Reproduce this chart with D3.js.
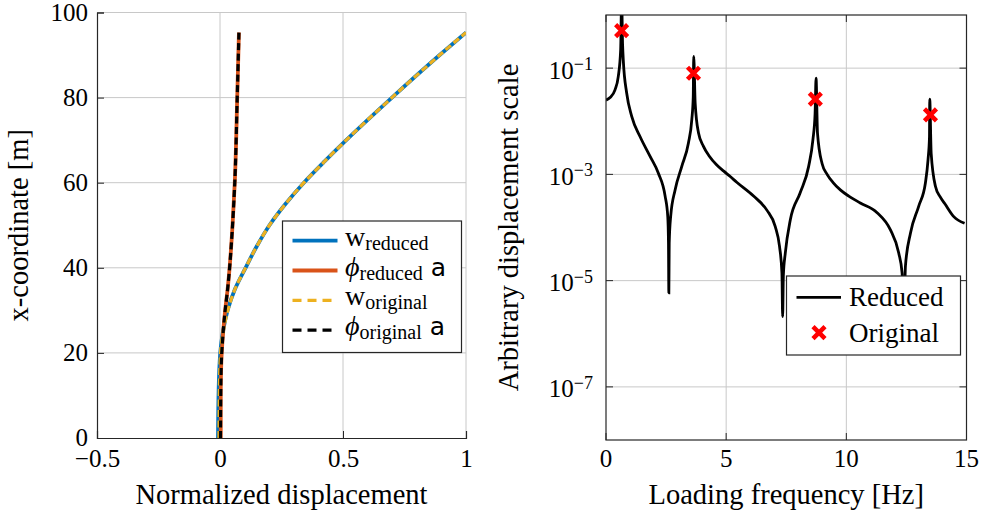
<!DOCTYPE html>
<html>
<head>
<meta charset="utf-8">
<script src="https://cdn.jsdelivr.net/npm/d3@7"></script>
<style>
  body { margin: 0; background: #fff; }
  svg { display: block; }
  text { font-family: "Liberation Serif", "DejaVu Serif", serif; fill: #000; }
</style>
</head>
<body>
<svg id="chart" width="983" height="515"></svg>
<script>
// ---- Mode shape data (left panel) ----
const xCoordW = [0, 10, 20, 25, 30, 35, 40, 45, 50, 55, 60, 65, 70, 80, 90, 95.3];
const wReduced = [-0.008, -0.006, 0.001, 0.012, 0.031, 0.061, 0.104, 0.149, 0.201, 0.266, 0.341, 0.425, 0.513, 0.699, 0.893, 1.0];
const wOriginal = [-0.004, -0.003, 0.002, 0.013, 0.032, 0.061, 0.104, 0.149, 0.201, 0.266, 0.341, 0.425, 0.513, 0.699, 0.893, 1.0];
const xCoordPhi = [0, 10, 15, 20, 25, 30, 35, 40, 50, 60, 80, 95.3];
const phiReduced = [0.003, 0.003, 0.004, 0.007, 0.013, 0.021, 0.031, 0.039, 0.051, 0.060, 0.070, 0.077];
const phiOriginal = [0.002, 0.003, 0.004, 0.007, 0.013, 0.021, 0.031, 0.039, 0.051, 0.060, 0.070, 0.077];
const leftXTicks = [-0.5, 0, 0.5, 1];
const leftYTicks = [0, 20, 40, 60, 80, 100];

// ---- Frequency response data (right panel) ----
const freqReduced = [0, 0.17, 0.375, 0.51, 0.61, 0.65, 0.69, 0.72, 0.86, 1.07, 1.42, 1.83, 2.18, 2.46, 2.57, 2.60, 2.615, 2.63,
  2.69, 2.875, 3.15, 3.43, 3.57, 3.63, 3.65, 3.71, 3.85, 4.05, 4.3, 4.61, 4.9, 5.17, 5.44, 6.14, 6.7, 7.04, 7.22, 7.32, 7.35, 7.38,
  7.46, 7.67, 8.08, 8.43, 8.61, 8.70, 8.74, 8.80, 8.99, 9.2, 9.45, 9.75, 10.1, 10.58, 11.28, 11.83, 12.18, 12.32, 12.39,
  12.46, 12.67, 13.01, 13.29, 13.40, 13.46, 13.47, 13.53, 13.71, 13.9, 14.1, 14.47, 14.92];
const ampReduced = [2.5e-2, 2.8e-2, 3.9e-2, 6.9e-2, 0.22, 2.0, 0.28, 0.14, 3.4e-2, 1.23e-2, 5.1e-3, 2.2e-3, 1.05e-3, 3.9e-4, 1.6e-4, 5.1e-5, 5.9e-6, 5.0e-5,
  1.6e-4, 5.1e-4, 1.4e-3, 3.9e-3, 1.07e-2, 2.9e-2, 0.166, 2.2e-2, 6.0e-3, 3.4e-3, 2.2e-3, 1.5e-3, 1.15e-3, 9.1e-4, 7.1e-4, 3.9e-4, 2.1e-4, 1.05e-4, 4.4e-5, 1.4e-5, 2.1e-6, 1.26e-5,
  3.3e-5, 1.4e-4, 4.5e-4, 1.4e-3, 4.5e-3, 1.4e-2, 6.5e-2, 6.0e-3, 1.6e-3, 1.0e-3, 7.0e-4, 5.1e-4, 3.9e-4, 2.9e-4, 1.9e-4, 9.1e-5, 3.3e-5, 1.4e-5, 1.6e-6,
  1.9e-5, 7.9e-5, 2.5e-4, 6.9e-4, 1.9e-3, 5.1e-3, 2.6e-2, 2.5e-3, 5.9e-4, 3.8e-4, 2.8e-4, 1.6e-4, 1.2e-4];
const freqOriginal = [0.65, 3.64, 8.71, 13.5];
const ampOriginal = [0.507, 0.080, 0.026, 0.0132];
const rightXTicks = [0, 5, 10, 15];
const rightYExponents = [-1, -3, -5, -7];

const colors = { blue: "#0072BD", orange: "#D95319", yellow: "#EDB120", black: "#000000", red: "#FF0000" };
const gridColor = "#c8c8c8";
const axisColor = "#262626";

const svg = d3.select("#chart");
const fmtMinus = s => String(s).replace("-", "\u2212");

// ================= Left panel =================
const L = { left: 97, right: 466, top: 12.5, bottom: 438 };
const xL = d3.scaleLinear().domain([-0.5, 1]).range([L.left, L.right]);
const yL = d3.scaleLinear().domain([0, 100]).range([L.bottom, L.top]);
const gL = svg.append("g");

gL.append("defs").append("clipPath").attr("id", "clipL")
  .append("rect").attr("x", L.left).attr("y", L.top).attr("width", L.right - L.left).attr("height", L.bottom - L.top);

// grid
gL.append("g").selectAll("line").data(leftXTicks.filter(d => d > -0.5)).join("line")
  .attr("x1", d => xL(d)).attr("x2", d => xL(d)).attr("y1", L.top).attr("y2", L.bottom)
  .attr("stroke", gridColor).attr("stroke-width", 1);
gL.append("g").selectAll("line").data(leftYTicks.filter(d => d > 0)).join("line")
  .attr("x1", L.left).attr("x2", L.right).attr("y1", d => yL(d)).attr("y2", d => yL(d))
  .attr("stroke", gridColor).attr("stroke-width", 1);

// axes (left and bottom only)
const axLeftL = d3.axisLeft(yL).tickValues(leftYTicks).tickSize(-7).tickPadding(9).tickFormat(d => d);
const axBottomL = d3.axisBottom(xL).tickValues(leftXTicks).tickSize(-7).tickPadding(11).tickFormat(d => fmtMinus(d));
const gyL = gL.append("g").attr("transform", `translate(${L.left},0)`).call(axLeftL);
const gxL = gL.append("g").attr("transform", `translate(0,${L.bottom})`).call(axBottomL);
[gyL, gxL].forEach(g => {
  g.select(".domain").attr("stroke", axisColor).attr("stroke-width", 1.2);
  g.selectAll(".tick line").attr("stroke", axisColor).attr("stroke-width", 1);
  g.selectAll(".tick text").attr("font-family", "Liberation Serif").attr("font-size", 25).attr("fill", "#000");
});
gxL.selectAll(".tick text").attr("dy", "0.71em");
gyL.selectAll(".tick text").attr("dy", "0.3em");

// lines
const lineL = (xs, ys) => d3.line().x((d, i) => xL(xs[i])).y((d, i) => yL(ys[i])).curve(d3.curveMonotoneY);
const plotL = gL.append("g").attr("clip-path", "url(#clipL)");
plotL.append("path").datum(wReduced).attr("d", lineL(wReduced, xCoordW))
  .attr("fill", "none").attr("stroke", colors.blue).attr("stroke-width", 3.8);
plotL.append("path").datum(phiReduced).attr("d", lineL(phiReduced, xCoordPhi))
  .attr("fill", "none").attr("stroke", colors.orange).attr("stroke-width", 3.8);
plotL.append("path").datum(wOriginal).attr("d", lineL(wOriginal, xCoordW))
  .attr("fill", "none").attr("stroke", colors.yellow).attr("stroke-width", 3.2).attr("stroke-dasharray", "7 3.5");
plotL.append("path").datum(phiOriginal).attr("d", lineL(phiOriginal, xCoordPhi))
  .attr("fill", "none").attr("stroke", colors.black).attr("stroke-width", 3.2).attr("stroke-dasharray", "7 3.5");

// axis labels
gL.append("text").attr("x", (L.left + L.right) / 2).attr("y", 504).attr("text-anchor", "middle")
  .attr("font-size", 28.5).text("Normalized displacement");
gL.append("text").attr("transform", `translate(28,${(L.top + L.bottom) / 2}) rotate(-90)`).attr("text-anchor", "middle")
  .attr("font-size", 28.5).text("x-coordinate [m]");

// legend
const legL = gL.append("g");
legL.append("rect").attr("x", 282.5).attr("y", 221).attr("width", 179).attr("height", 131.5)
  .attr("fill", "#fff").attr("stroke", axisColor).attr("stroke-width", 1.2);
const legItemsL = [
  { sym: "w", sub: "reduced", tail: "", color: colors.blue, dash: null },
  { sym: "\u03D5", sub: "reduced", tail: " a", color: colors.orange, dash: null },
  { sym: "w", sub: "original", tail: "", color: colors.yellow, dash: "9 6" },
  { sym: "\u03D5", sub: "original", tail: " a", color: colors.black, dash: "9 6" }
];
legItemsL.forEach((it, i) => {
  const y = 240.7 + i * 29.8;
  legL.append("line").attr("x1", 292.5).attr("x2", 337.5).attr("y1", y).attr("y2", y)
    .attr("stroke", it.color).attr("stroke-width", it.dash ? 3.2 : 3.8).attr("stroke-dasharray", it.dash);
  const t = legL.append("text").attr("x", 345).attr("y", y + 5).attr("font-size", 28);
  t.append("tspan").attr("font-style", it.sym === "w" ? "normal" : "italic").text(it.sym);
  t.append("tspan").attr("font-size", 20).attr("dy", 4).text(it.sub);
  if (it.tail) t.append("tspan").attr("dy", -4).attr("font-family", "DejaVu Sans").attr("font-size", 25).text(it.tail);
});

// ================= Right panel =================
const R = { left: 606, right: 966.5, top: 15, bottom: 440 };
const xR = d3.scaleLinear().domain([0, 15]).range([R.left, R.right]);
const yR = d3.scaleLog().domain([1e-8, 1]).range([R.bottom, R.top]);
const gR = svg.append("g");

gR.append("defs").append("clipPath").attr("id", "clipR")
  .append("rect").attr("x", R.left).attr("y", R.top).attr("width", R.right - R.left).attr("height", R.bottom - R.top);

gR.append("g").selectAll("line").data(rightXTicks.filter(d => d > 0 && d < 15)).join("line")
  .attr("x1", d => xR(d)).attr("x2", d => xR(d)).attr("y1", R.top).attr("y2", R.bottom)
  .attr("stroke", gridColor).attr("stroke-width", 1);
gR.append("g").selectAll("line").data(rightYExponents).join("line")
  .attr("x1", R.left).attr("x2", R.right).attr("y1", d => yR(Math.pow(10, d))).attr("y2", d => yR(Math.pow(10, d)))
  .attr("stroke", gridColor).attr("stroke-width", 1);

// inner tick marks on all four sides
const tickLen = 7;
rightYExponents.forEach(e => {
  const y = yR(Math.pow(10, e));
  gR.append("line").attr("x1", R.left).attr("x2", R.left + tickLen).attr("y1", y).attr("y2", y).attr("stroke", axisColor);
  gR.append("line").attr("x1", R.right - tickLen).attr("x2", R.right).attr("y1", y).attr("y2", y).attr("stroke", axisColor);
});
rightXTicks.forEach(v => {
  const x = xR(v);
  gR.append("line").attr("x1", x).attr("x2", x).attr("y1", R.bottom - tickLen).attr("y2", R.bottom).attr("stroke", axisColor);
  gR.append("line").attr("x1", x).attr("x2", x).attr("y1", R.top).attr("y2", R.top + tickLen).attr("stroke", axisColor);
});

// tick labels
gR.append("g").selectAll("text").data(rightXTicks).join("text")
  .attr("x", d => xR(d)).attr("y", 467).attr("text-anchor", "middle").attr("font-size", 25).text(d => d);
const yLab = gR.append("g").selectAll("text").data(rightYExponents).join("text")
  .attr("x", 593).attr("y", d => yR(Math.pow(10, d)) + 10.5).attr("text-anchor", "end").attr("font-size", 25);
yLab.append("tspan").text("10");
yLab.append("tspan").attr("font-size", 18).attr("dy", -8.5).text(d => fmtMinus(d));

// curve
const plotR = gR.append("g").attr("clip-path", "url(#clipR)");
plotR.append("path").datum(freqReduced)
  .attr("d", d3.line().x((d, i) => xR(freqReduced[i])).y((d, i) => yR(ampReduced[i])).curve(d3.curveMonotoneX))
  .attr("fill", "none").attr("stroke", colors.black).attr("stroke-width", 2.8);

// markers
const cross = (x, y, s) => `M${x - s},${y - s}L${x + s},${y + s}M${x - s},${y + s}L${x + s},${y - s}`;
plotR.append("g").selectAll("path").data(freqOriginal).join("path")
  .attr("d", (d, i) => cross(xR(d), yR(ampOriginal[i]), 6))
  .attr("stroke", colors.red).attr("stroke-width", 4.5).attr("fill", "none");

// frame
gR.append("rect").attr("x", R.left).attr("y", R.top).attr("width", R.right - R.left).attr("height", R.bottom - R.top)
  .attr("fill", "none").attr("stroke", axisColor).attr("stroke-width", 1.2);

// labels
gR.append("text").attr("x", (R.left + R.right) / 2).attr("y", 504).attr("text-anchor", "middle")
  .attr("font-size", 28.5).text("Loading frequency [Hz]");
gR.append("text").attr("transform", `translate(518,${(R.top + R.bottom) / 2}) rotate(-90)`).attr("text-anchor", "middle")
  .attr("font-size", 28.5).text("Arbitrary displacement scale");

// legend
const legR = gR.append("g");
legR.append("rect").attr("x", 786.5).attr("y", 276).attr("width", 174).attr("height", 79)
  .attr("fill", "#fff").attr("stroke", axisColor).attr("stroke-width", 1.2);
legR.append("line").attr("x1", 796.5).attr("x2", 841).attr("y1", 297.3).attr("y2", 297.3)
  .attr("stroke", colors.black).attr("stroke-width", 2.8);
legR.append("text").attr("x", 849).attr("y", 306).attr("font-size", 27).text("Reduced");
legR.append("path").attr("d", cross(819, 332.7, 6)).attr("stroke", colors.red).attr("stroke-width", 4.5);
legR.append("text").attr("x", 849).attr("y", 341.5).attr("font-size", 27).text("Original");
</script>
</body>
</html>
